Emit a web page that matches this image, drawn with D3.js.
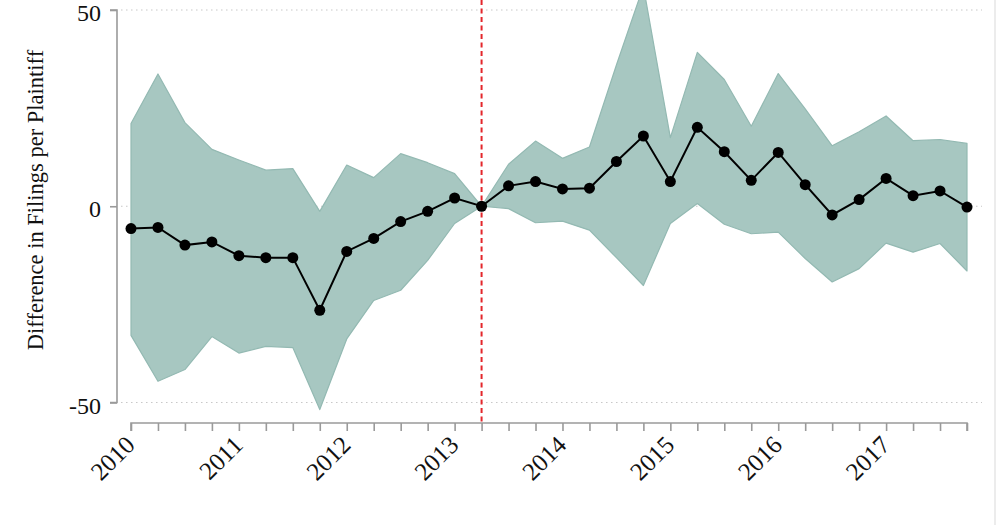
<!DOCTYPE html>
<html>
<head>
<meta charset="utf-8">
<script src="https://cdn.jsdelivr.net/npm/d3@7"></script>
<style>
  html, body { margin: 0; padding: 0; background: #fff; }
  svg { display: block; }
  text { font-family: "Liberation Serif", "DejaVu Serif", serif; fill: #111; }
</style>
</head>
<body>
<svg id="chart" width="1000" height="525"></svg>
<script>
// Quarterly periods 2010Q1 .. 2017Q4
const quarters = [
  "2010Q1","2010Q2","2010Q3","2010Q4","2011Q1","2011Q2","2011Q3","2011Q4",
  "2012Q1","2012Q2","2012Q3","2012Q4","2013Q1","2013Q2","2013Q3","2013Q4",
  "2014Q1","2014Q2","2014Q3","2014Q4","2015Q1","2015Q2","2015Q3","2015Q4",
  "2016Q1","2016Q2","2016Q3","2016Q4","2017Q1","2017Q2","2017Q3","2017Q4"
];
const estimate = [
  -5.7, -5.4, -9.9, -9.1, -12.6, -13.1, -13.1, -26.5,
  -11.5, -8.2, -3.9, -1.3, 2.1, 0, 5.2, 6.3,
  4.4, 4.6, 11.4, 17.9, 6.3, 20.1, 13.9, 6.6,
  13.7, 5.5, -2.2, 1.7, 7.1, 2.7, 3.9, -0.2
];
const upper = [
  21.1, 33.7, 21.3, 14.5, 11.8, 9.2, 9.6, -1.3,
  10.5, 7.3, 13.4, 11.1, 8.3, 0, 10.7, 16.6,
  12.2, 15.1, 36.0, 56.0, 17.5, 39.2, 32.3, 20.4,
  33.8, 24.8, 15.4, 19.0, 23.0, 16.7, 17.0, 16.0
];
const lower = [
  -32.9, -44.6, -41.6, -33.2, -37.4, -35.7, -36.0, -51.8,
  -33.8, -24.0, -21.4, -13.8, -4.4, 0, -0.6, -4.2,
  -3.8, -6.1, -13.1, -20.2, -4.4, 0.7, -4.6, -7.0,
  -6.6, -13.3, -19.3, -15.9, -9.4, -11.7, -9.5, -16.5
];
const yTicks = [50, 0, -50];
const yearLabels = ["2010","2011","2012","2013","2014","2015","2016","2017"];
const eventIndex = 13; // 2013Q2
const yTitle = "Difference in Filings per Plaintiff";

const svg = d3.select("#chart");
const x = d3.scaleLinear().domain([0, quarters.length - 1]).range([131, 967]);
const y = d3.scaleLinear().domain([-50, 50]).range([402.5, 10]);

const data = quarters.map((q, i) => ({ q, i, est: estimate[i], hi: upper[i], lo: lower[i] }));

// right border line
svg.append("line").attr("x1", 995).attr("x2", 995).attr("y1", 0).attr("y2", 525)
  .attr("stroke", "#e6e6e6").attr("stroke-width", 1.5);

// gridlines (dotted)
svg.append("g").selectAll("line").data(yTicks).join("line")
  .attr("x1", 121).attr("x2", 982)
  .attr("y1", d => y(d)).attr("y2", d => y(d))
  .attr("stroke", "#c8c8c8").attr("stroke-width", 1.2)
  .attr("stroke-dasharray", "1.5,3.5");

// confidence band
const area = d3.area().x(d => x(d.i)).y0(d => y(d.lo)).y1(d => y(d.hi));
svg.append("path").datum(data).attr("d", area)
  .attr("fill", "#a7c7c1").attr("stroke", "#93b9b2").attr("stroke-width", 1.2)
  .attr("stroke-linejoin", "round");

// y axis
const yAxis = d3.axisLeft(y).tickValues(yTicks).tickSize(7).tickPadding(9).tickFormat(d3.format("d"));
const gy = svg.append("g").attr("transform", "translate(117,0)").call(yAxis);
gy.select(".domain").attr("stroke", "#9a9a9a").attr("stroke-width", 1.6).attr("d", `M-7,${y(50)}H0V${y(-50)}H-7`);
gy.selectAll(".tick line").attr("stroke", "#9a9a9a").attr("stroke-width", 1.6);
gy.selectAll(".tick text").style("font-size", "24px").style("font-family", "'Liberation Serif', serif").attr("fill", "#111")
  .attr("y", 3)
  .text(d => d < 0 ? "-" + Math.abs(d) : d);

// x axis
const xAxis = d3.axisBottom(x).tickValues(d3.range(quarters.length)).tickSize(8).tickFormat("");
const gx = svg.append("g").attr("transform", "translate(0,423)").call(xAxis);
gx.select(".domain").attr("stroke", "#9a9a9a").attr("stroke-width", 1.6)
  .attr("d", `M${x(0)},8V0H${x(quarters.length - 1)}V8`);
gx.selectAll(".tick line").attr("stroke", "#9a9a9a").attr("stroke-width", 1.6);

// year labels
svg.append("g").selectAll("text").data(yearLabels).join("text")
  .attr("transform", (d, k) => `translate(${x(k * 4) - 7},${434}) rotate(-45)`)
  .attr("text-anchor", "end")
  .attr("dy", "0.7em")
  .style("font-size", "25px")
  .text(d => d);

// event line
svg.append("line")
  .attr("x1", x(eventIndex)).attr("x2", x(eventIndex))
  .attr("y1", 0).attr("y2", 423)
  .attr("stroke", "#e3262b").attr("stroke-width", 2)
  .attr("stroke-dasharray", "5,3.5");

// estimate line
const line = d3.line().x(d => x(d.i)).y(d => y(d.est));
svg.append("path").datum(data).attr("d", line)
  .attr("fill", "none").attr("stroke", "#000").attr("stroke-width", 2);

svg.append("g").selectAll("circle").data(data).join("circle")
  .attr("cx", d => x(d.i)).attr("cy", d => y(d.est)).attr("r", 5.5)
  .attr("fill", "#000");

// y title
svg.append("text")
  .attr("transform", `translate(43,200) rotate(-90)`)
  .attr("text-anchor", "middle")
  .style("font-size", "22.5px")
  .text(yTitle);
</script>
</body>
</html>
